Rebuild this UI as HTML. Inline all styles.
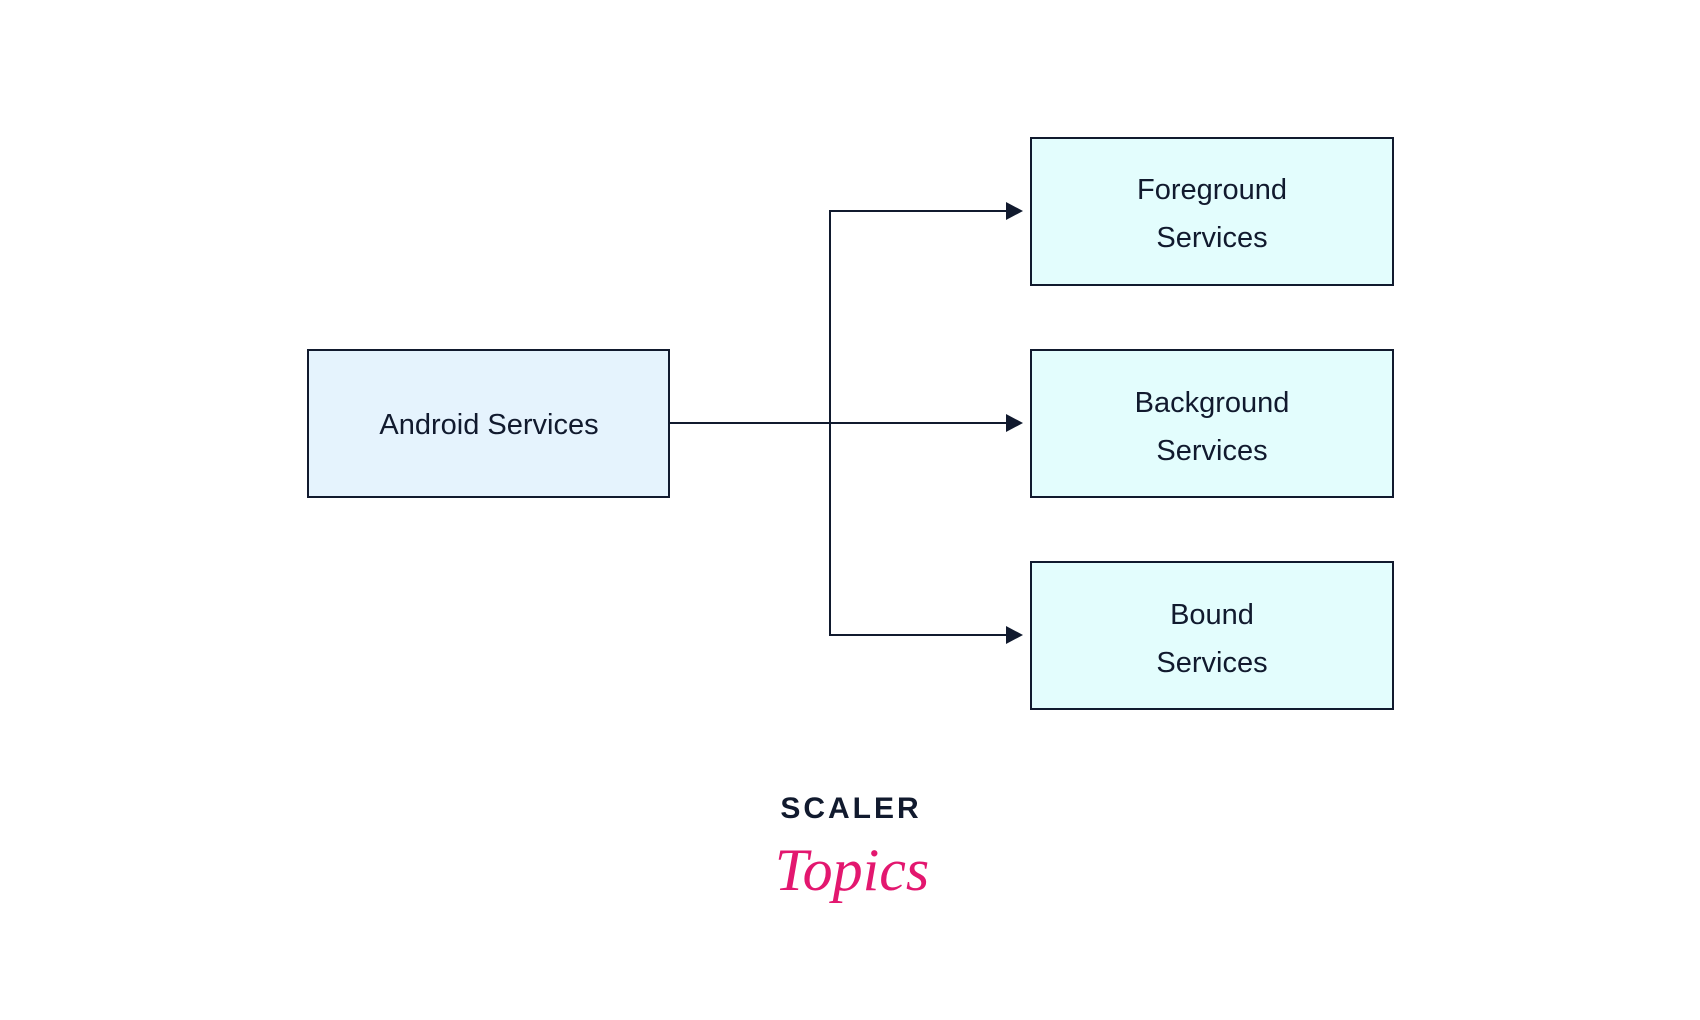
<!DOCTYPE html>
<html><head><meta charset="utf-8"><style>
html,body{margin:0;padding:0;background:#fff;}
body{width:1700px;height:1015px;overflow:hidden;position:relative;font-family:"Liberation Sans",sans-serif;}
</style></head><body>
<svg width="1700" height="1015" viewBox="0 0 1700 1015" xmlns="http://www.w3.org/2000/svg">
<g stroke="#111a2e" stroke-width="2">
<rect x="308" y="350" width="361" height="147" fill="#e5f3fd"/>
<rect x="1031" y="138" width="362" height="147" fill="#e3fdfd"/>
<rect x="1031" y="350" width="362" height="147" fill="#e3fdfd"/>
<rect x="1031" y="562" width="362" height="147" fill="#e3fdfd"/>
<g fill="none">
<path d="M669,423 H1008"/>
<path d="M830,423 V211 H1008"/>
<path d="M830,423 V635 H1008"/>
</g>
<path d="M1006,202 L1023,211 L1006,220z M1006,414 L1023,423 L1006,432z M1006,626 L1023,635 L1006,644z" fill="#111a2e" stroke="none"/>
</g>
<g font-family="Liberation Sans, sans-serif" font-size="29" fill="#111a2e" text-anchor="middle">
<text x="489" y="434">Android Services</text>
<text x="1212" y="199">Foreground</text>
<text x="1212" y="247">Services</text>
<text x="1212" y="412">Background</text>
<text x="1212" y="460">Services</text>
<text x="1212" y="624">Bound</text>
<text x="1212" y="672">Services</text>
</g>
<text x="851" y="818" font-family="Liberation Sans, sans-serif" font-weight="bold" font-size="30" letter-spacing="3" fill="#111a2e" text-anchor="middle">SCALER</text>
<text x="852" y="890" font-family="Liberation Serif, serif" font-style="italic" font-size="60" fill="#e3176f" text-anchor="middle">Topics</text>
</svg>
</body></html>
